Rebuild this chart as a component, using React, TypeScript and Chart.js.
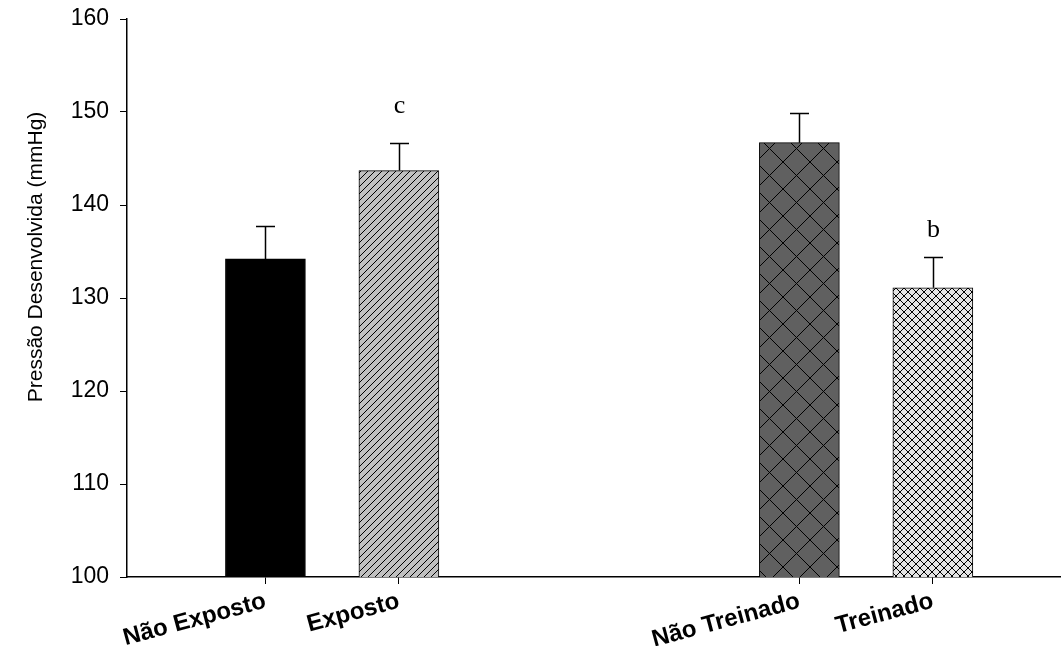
import React, { useEffect, useRef } from "react";
import { Chart, registerables } from "chart.js";

Chart.register(...registerables);

const categories = ["Não Exposto", "Exposto", "Não Treinado", "Treinado"];
const xPositions = [0, 1, 4, 5];
const means = [134.2, 143.7, 146.7, 131.1];
const sems = [3.5, 3.0, 3.2, 3.3];
const annotations = ["", "c", "", "b"];
const annotationY = [0, 149.9, 0, 136.6];
const yTicks = [100, 110, 120, 130, 140, 150, 160];
const yTitle = "Pressão Desenvolvida (mmHg)";

function makeTile(size: number, bg: string, draw: (c: CanvasRenderingContext2D, s: number) => void) {
  const cv = document.createElement("canvas");
  cv.width = size;
  cv.height = size;
  const c = cv.getContext("2d")!;
  c.fillStyle = bg;
  c.fillRect(0, 0, size, size);
  c.strokeStyle = "#000";
  c.lineWidth = 1;
  draw(c, size);
  return cv;
}

function diagUp(c: CanvasRenderingContext2D, s: number) {
  c.beginPath();
  c.moveTo(-1, s + 1);
  c.lineTo(s + 1, -1);
  c.moveTo(-1, 1);
  c.lineTo(1, -1);
  c.moveTo(s - 1, s + 1);
  c.lineTo(s + 1, s - 1);
  c.stroke();
}
function diagDown(c: CanvasRenderingContext2D, s: number) {
  c.beginPath();
  c.moveTo(-1, -1);
  c.lineTo(s + 1, s + 1);
  c.moveTo(s - 1, -1);
  c.lineTo(s + 1, 1);
  c.moveTo(-1, s - 1);
  c.lineTo(1, s + 1);
  c.stroke();
}

export default function App() {
  const ref = useRef<HTMLCanvasElement>(null);
  useEffect(() => {
    document.body.style.margin = "0";
    const ctx = ref.current!.getContext("2d")!;
    const pExposto = ctx.createPattern(makeTile(7, "#c0c0c0", diagUp), "repeat")!;
    const pNT = ctx.createPattern(
      makeTile(27, "#606060", (c, s) => {
        diagUp(c, s);
        diagDown(c, s);
      }),
      "repeat"
    )!;
    const pT = ctx.createPattern(
      makeTile(8, "#e4e4e4", (c, s) => {
        diagUp(c, s);
        diagDown(c, s);
      }),
      "repeat"
    )!;
    const fills: any[] = ["#000000", pExposto, pNT, pT];

    const overlay = {
      id: "overlay",
      afterDatasetsDraw(chart: any) {
        const c = chart.ctx as CanvasRenderingContext2D;
        const xs = chart.scales.x;
        const ys = chart.scales.y;
        c.save();
        c.strokeStyle = "#000";
        c.lineWidth = 1.5;
        for (let i = 0; i < means.length; i++) {
          const x = Math.round(xs.getPixelForValue(xPositions[i])) + 0.5;
          const yb = ys.getPixelForValue(means[i]);
          const yt = Math.round(ys.getPixelForValue(means[i] + sems[i])) + 0.5;
          c.beginPath();
          c.moveTo(x, yb);
          c.lineTo(x, yt);
          c.moveTo(x - 9.5, yt);
          c.lineTo(x + 9.5, yt);
          c.stroke();
          if (annotations[i]) {
            c.fillStyle = "#000";
            c.font = '26px "Liberation Serif", "Times New Roman", serif';
            c.textAlign = "center";
            c.textBaseline = "alphabetic";
            c.fillText(annotations[i], x, ys.getPixelForValue(annotationY[i]));
          }
        }
        c.save();
        c.translate(36, 257);
        c.rotate(-Math.PI / 2);
        c.fillStyle = "#000";
        c.font = '21px "Liberation Sans", Arial, sans-serif';
        c.textAlign = "center";
        c.textBaseline = "middle";
        c.fillText(yTitle, 0, 0);
        c.restore();
        c.restore();
      },
    };

    const chart = new Chart(ctx, {
      type: "bar",
      data: {
        datasets: [
          {
            data: xPositions.map((x, i) => ({ x, y: means[i] })),
            backgroundColor: fills,
            borderColor: "#000",
            borderWidth: 1,
            barThickness: 80,
          } as any,
        ],
      },
      options: {
        animation: false,
        responsive: false,
        layout: { padding: { top: 19, left: 0, right: 0, bottom: 0 } },
        plugins: { legend: { display: false }, tooltip: { enabled: false } },
        scales: {
          x: {
            type: "linear",
            min: -1.037,
            max: 5.96,
            offset: false,
            grid: { display: true, offset: false, drawOnChartArea: false, drawTicks: true, tickLength: 7, color: "#000" },
            border: { display: true, color: "#000", width: 1.5 },
            afterBuildTicks: (s: any) => {
              s.ticks = xPositions.map((v) => ({ value: v }));
            },
            afterFit: (s: any) => {
              s.height = 69;
              s.paddingLeft = 0;
              s.paddingRight = 0;
            },
            ticks: {
              autoSkip: false,
              minRotation: 15,
              maxRotation: 15,
              padding: 3,
              color: "#000",
              font: { family: '"Liberation Sans", Arial, sans-serif', size: 24, weight: "bold" },
              callback: (v: any) => {
                const idx = xPositions.indexOf(Number(v));
                return idx >= 0 ? categories[idx] : "";
              },
            },
          },
          y: {
            type: "linear",
            min: 100,
            max: 160,
            grid: { display: true, drawOnChartArea: false, drawTicks: true, tickLength: 7, color: "#000" },
            border: { display: true, color: "#000", width: 1.5 },
            afterBuildTicks: (s: any) => {
              s.ticks = yTicks.map((v) => ({ value: v }));
            },
            afterFit: (s: any) => {
              s.width = 127;
              s.paddingTop = 0;
              s.paddingBottom = 0;
            },
            ticks: {
              padding: 11,
              color: "#000",
              font: { family: '"Liberation Sans", Arial, sans-serif', size: 23 },
            },
          },
        },
      } as any,
      plugins: [overlay],
    });
    return () => chart.destroy();
  }, []);
  return (
    <div style={{ width: 1061, height: 646 }}>
      <canvas ref={ref} width={1061} height={646} style={{ display: "block" }} />
    </div>
  );
}
